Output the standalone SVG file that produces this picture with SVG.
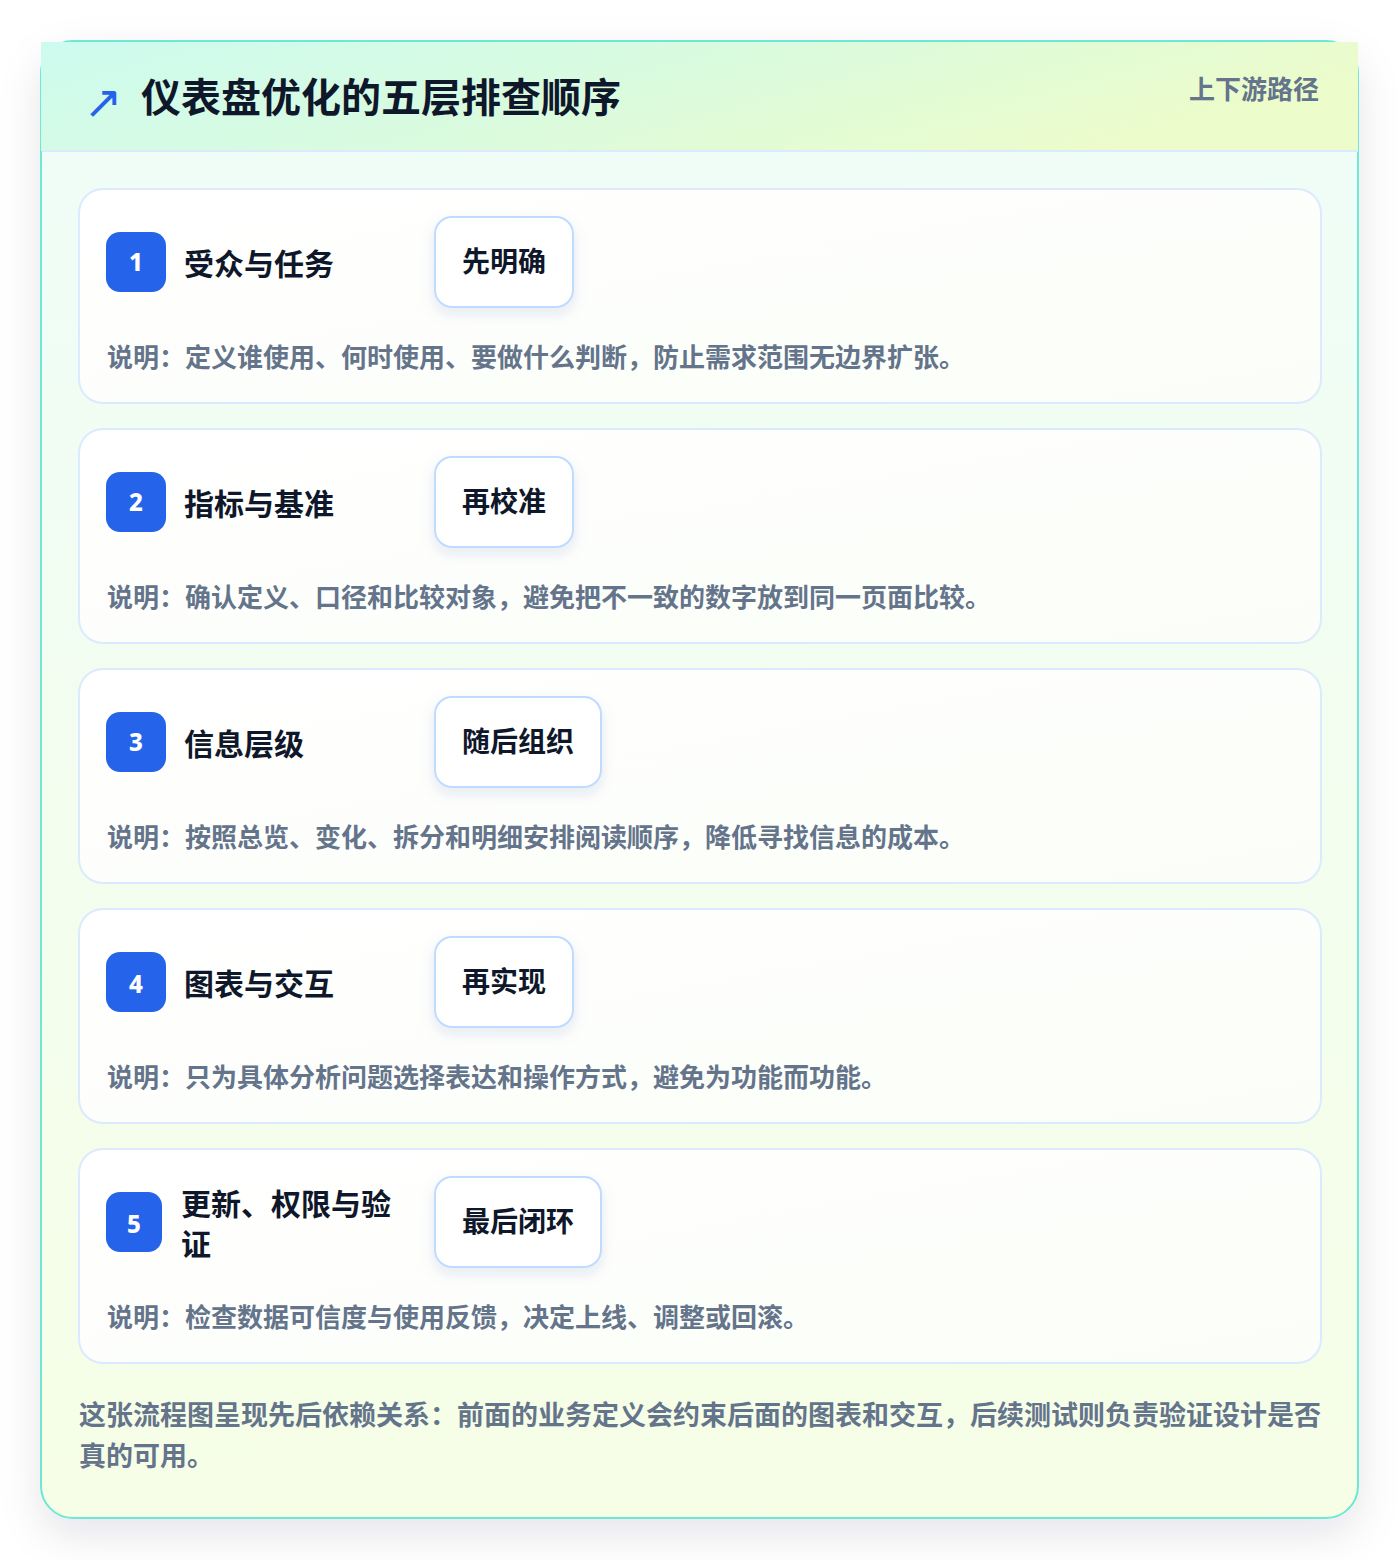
<svg xmlns="http://www.w3.org/2000/svg" width="1400" height="1560" viewBox="0 0 1400 1560">
  <defs>
    <linearGradient id="hdrGrad" x1="0" y1="0" x2="1" y2="0.3">
      <stop offset="0" stop-color="#cdfbef"/>
      <stop offset="0.5" stop-color="#d9fbdf"/>
      <stop offset="1" stop-color="#ecfccb"/>
    </linearGradient>
    <linearGradient id="bodyGrad" x1="0" y1="0" x2="0" y2="1">
      <stop offset="0" stop-color="#effdf8"/>
      <stop offset="1" stop-color="#f6fee6"/>
    </linearGradient>
    <linearGradient id="cardGrad" x1="0" y1="0" x2="1" y2="1">
      <stop offset="0" stop-color="#ffffff"/>
      <stop offset="1" stop-color="#fbfef8"/>
    </linearGradient>
    <filter id="panelShadow" x="-10%" y="-10%" width="120%" height="120%">
      <feDropShadow dx="0" dy="16" stdDeviation="20" flood-color="#0f172a" flood-opacity="0.10"/>
    </filter>
    <filter id="pillShadow" x="-30%" y="-30%" width="160%" height="170%">
      <feDropShadow dx="0" dy="6" stdDeviation="7" flood-color="#1e3a8a" flood-opacity="0.10"/>
    </filter>
  </defs>
  <style>
    text { font-family: "Noto Sans CJK SC", "Noto Sans", "Liberation Sans", sans-serif; font-weight: 700; }
    .icon { font-family: "DejaVu Sans", sans-serif; font-size: 46px; fill: #2563eb; font-weight: 400; }
    .title { font-size: 40px; fill: #0f172a; }
    .sub { font-size: 26px; fill: #64748b; }
    .card { fill: url(#cardGrad); stroke: #dbeafe; stroke-width: 2; }
    .badge { fill: #2563eb; }
    .num { font-family: "Noto Sans", "Liberation Sans", sans-serif; font-size: 24px; font-weight: 800; fill: #ffffff; text-anchor: middle; }
    .ctitle { font-size: 30px; fill: #0f172a; }
    .pill { fill: #ffffff; stroke: #bfdbfe; stroke-width: 2; filter: url(#pillShadow); }
    .ptext { font-size: 28px; fill: #0f172a; }
    .desc { font-size: 26px; fill: #64748b; }
    .foot { font-size: 27px; fill: #64748b; }
  </style>
  <rect width="1400" height="1560" fill="#ffffff"/>

  <g id="panel">
    <rect x="41" y="41" width="1317" height="1477" rx="32" fill="url(#bodyGrad)" stroke="#6ee7d4" stroke-width="2" filter="url(#panelShadow)"/>
    <rect x="41" y="42" width="1317" height="109" fill="url(#hdrGrad)"/>
    <line x1="42" y1="151" x2="1358" y2="151" stroke="#dbeafe" stroke-width="2"/>
  </g>

  <g id="header">
    <text class="icon" x="84" y="118">↗</text>
    <text class="title" x="141" y="112">仪表盘优化的五层排查顺序</text>
    <text class="sub" x="1319" y="99" text-anchor="end">上下游路径</text>
  </g>

  <g id="node1">
    <rect class="card" x="79" y="189" width="1242" height="214" rx="24"/>
    <rect class="badge" x="106" y="232" width="60" height="60" rx="14"/>
    <text class="num" x="136" y="271">1</text>
    <text class="ctitle" x="184" y="275">受众与任务</text>
    <rect class="pill" x="435" y="217" width="138" height="90" rx="17"/>
    <text class="ptext" x="462" y="272">先明确</text>
    <text class="desc" x="107" y="367">说明：定义谁使用、何时使用、要做什么判断，防止需求范围无边界扩张。</text>
  </g>

  <g id="node2">
    <rect class="card" x="79" y="429" width="1242" height="214" rx="24"/>
    <rect class="badge" x="106" y="472" width="60" height="60" rx="14"/>
    <text class="num" x="136" y="511">2</text>
    <text class="ctitle" x="184" y="515">指标与基准</text>
    <rect class="pill" x="435" y="457" width="138" height="90" rx="17"/>
    <text class="ptext" x="462" y="512">再校准</text>
    <text class="desc" x="107" y="607">说明：确认定义、口径和比较对象，避免把不一致的数字放到同一页面比较。</text>
  </g>

  <g id="node3">
    <rect class="card" x="79" y="669" width="1242" height="214" rx="24"/>
    <rect class="badge" x="106" y="712" width="60" height="60" rx="14"/>
    <text class="num" x="136" y="751">3</text>
    <text class="ctitle" x="184" y="755">信息层级</text>
    <rect class="pill" x="435" y="697" width="166" height="90" rx="17"/>
    <text class="ptext" x="462" y="752">随后组织</text>
    <text class="desc" x="107" y="847">说明：按照总览、变化、拆分和明细安排阅读顺序，降低寻找信息的成本。</text>
  </g>

  <g id="node4">
    <rect class="card" x="79" y="909" width="1242" height="214" rx="24"/>
    <rect class="badge" x="106" y="952" width="60" height="60" rx="14"/>
    <text class="num" x="136" y="993">4</text>
    <text class="ctitle" x="184" y="995">图表与交互</text>
    <rect class="pill" x="435" y="937" width="138" height="90" rx="17"/>
    <text class="ptext" x="462" y="992">再实现</text>
    <text class="desc" x="107" y="1087">说明：只为具体分析问题选择表达和操作方式，避免为功能而功能。</text>
  </g>

  <g id="node5">
    <rect class="card" x="79" y="1149" width="1242" height="214" rx="24"/>
    <rect class="badge" x="106" y="1192" width="56" height="60" rx="14"/>
    <text class="num" x="134" y="1233">5</text>
    <text class="ctitle" x="181" y="1215">更新、权限与验</text>
    <text class="ctitle" x="181" y="1255">证</text>
    <rect class="pill" x="435" y="1177" width="166" height="90" rx="17"/>
    <text class="ptext" x="462" y="1232">最后闭环</text>
    <text class="desc" x="107" y="1327">说明：检查数据可信度与使用反馈，决定上线、调整或回滚。</text>
  </g>

  <g id="connectors"></g>

  <g id="footer">
    <text class="foot" x="79" y="1425">这张流程图呈现先后依赖关系：前面的业务定义会约束后面的图表和交互，后续测试则负责验证设计是否</text>
    <text class="foot" x="79" y="1466">真的可用。</text>
  </g>
</svg>
